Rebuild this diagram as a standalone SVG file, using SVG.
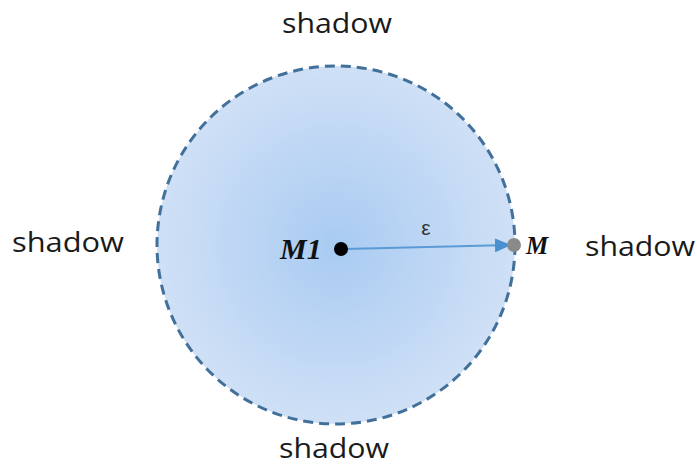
<svg xmlns="http://www.w3.org/2000/svg" width="697" height="466" viewBox="0 0 697 466">
<style>
.lbl{font-family:"Open Sans","Noto Sans","Liberation Sans",sans-serif;font-size:28px;fill:#1a1a1a}
.m{font-family:"Liberation Serif","Times New Roman",serif;font-style:italic;font-weight:bold;fill:#111}
</style>
<defs>
<radialGradient id="g" cx="0.5" cy="0.5" r="0.5">
<stop offset="0" stop-color="#a9cbf2"/>
<stop offset="1" stop-color="#cfe0f6"/>
</radialGradient>
<marker id="ah" markerWidth="16" markerHeight="14" refX="15" refY="7" orient="auto" markerUnits="userSpaceOnUse">
<path d="M0,0 L16,7 L0,14 z" fill="#4a8fd0"/>
</marker>
</defs>
<rect width="697" height="466" fill="#fff"/>
<g id="region">
<circle cx="336" cy="245" r="179" fill="url(#g)" stroke="#41709b" stroke-width="3" stroke-dasharray="10,6"/>
</g>
<g id="connectors">
<line x1="345" y1="249" x2="510" y2="245" stroke="#5b9bd5" stroke-width="2" marker-end="url(#ah)"/>
</g>
<g id="M1">
<circle cx="341" cy="249" r="7" fill="#000"/>
<text class="m" x="280" y="259" font-size="30">M1</text>
</g>
<g id="M">
<circle cx="514" cy="245" r="7" fill="#8a8a8a"/>
<text class="m" x="526" y="254" font-size="25">M</text>
</g>
<text x="426" y="235" font-family="Liberation Sans,sans-serif" font-size="21" fill="#333" text-anchor="middle">ε</text>
<g id="shadow-top"><text class="lbl" x="337" y="33" text-anchor="middle" textLength="110" lengthAdjust="spacingAndGlyphs">shadow</text></g>
<g id="shadow-left"><text class="lbl" x="68" y="252" text-anchor="middle" textLength="112" lengthAdjust="spacingAndGlyphs">shadow</text></g>
<g id="shadow-right"><text class="lbl" x="640" y="256" text-anchor="middle" textLength="110" lengthAdjust="spacingAndGlyphs">shadow</text></g>
<g id="shadow-bottom"><text class="lbl" x="334" y="458" font-size="27" text-anchor="middle" textLength="110" lengthAdjust="spacingAndGlyphs">shadow</text></g>
</svg>
